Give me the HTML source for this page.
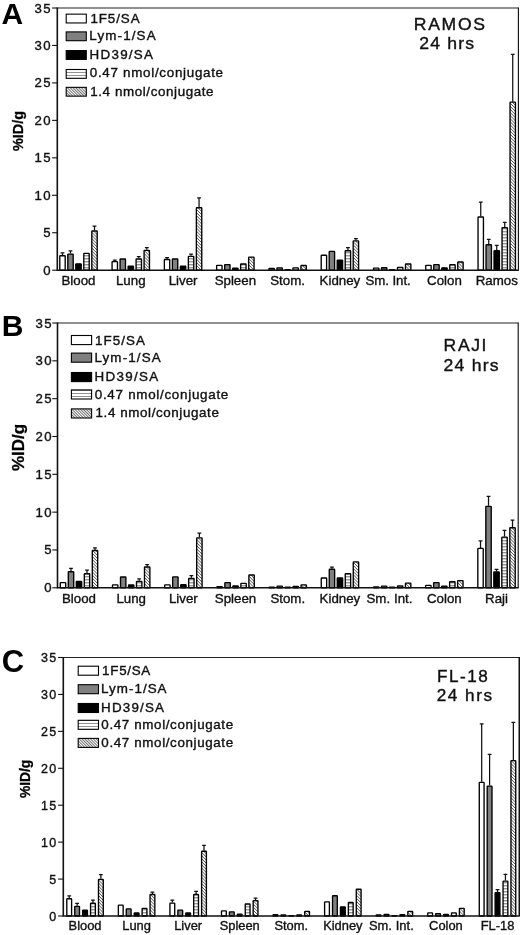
<!DOCTYPE html>
<html><head><meta charset="utf-8"><title>Figure</title>
<style>html,body{margin:0;padding:0;background:#fff}svg{display:block;filter:blur(0.35px)}text{font-family:"Liberation Sans",Arial,Helvetica,sans-serif;fill:#111;stroke:#111;stroke-width:0.36px}</style></head><body>
<svg width="520" height="935" viewBox="0 0 520 935">
<defs><pattern id="hz" width="4" height="3" patternUnits="userSpaceOnUse"><rect width="4" height="3" fill="#fff"/><rect y="0.3" width="4" height="1" fill="#6a6a6a"/></pattern><pattern id="dg" width="2.2" height="2.2" patternUnits="userSpaceOnUse" patternTransform="rotate(45)"><rect width="2.2" height="2.2" fill="#fff"/><rect y="0" width="2.2" height="0.75" fill="#555"/></pattern><pattern id="hzl" width="4" height="3" patternUnits="userSpaceOnUse"><rect width="4" height="3" fill="#fff"/><rect y="0" width="4" height="0.8" fill="#777"/></pattern><pattern id="dgl" width="2" height="2" patternUnits="userSpaceOnUse" patternTransform="rotate(45)"><rect width="2" height="2" fill="#fff"/><rect y="0" width="2" height="0.7" fill="#333"/></pattern></defs>
<rect width="520" height="935" fill="#fff"/>
<g>
<text x="1.55" y="23.60" font-size="30" letter-spacing="0.00" font-weight="bold" style="fill:#000;stroke:none">A</text>
<path d="M57.3 8.0H518.4" fill="none" stroke="#222" stroke-width="1.15"/>
<path d="M518.4 7.5V270.2" fill="none" stroke="#111" stroke-width="1.15"/>
<path d="M62.50 255.29V252.97M60.60 252.97H64.40" stroke="#111" stroke-width="1.25" fill="none"/>
<rect x="59.80" y="255.79" width="5.40" height="14.41" fill="#fff" stroke="#000" stroke-width="1.35" rx="0.5"/>
<path d="M70.50 253.57V250.95M68.60 250.95H72.40" stroke="#111" stroke-width="1.25" fill="none"/>
<rect x="67.80" y="254.07" width="5.40" height="16.13" fill="#808080" stroke="#000" stroke-width="1.35" rx="0.5"/>
<rect x="75.80" y="263.81" width="5.40" height="6.39" fill="#000" stroke="#000" stroke-width="1.35" rx="0.5"/>
<rect x="83.80" y="253.32" width="5.40" height="16.88" fill="url(#hz)" stroke="#000" stroke-width="1.35" rx="0.5"/>
<path d="M94.50 230.50V226.00M92.60 226.00H96.40" stroke="#111" stroke-width="1.25" fill="none"/>
<rect x="91.80" y="231.00" width="5.40" height="39.20" fill="url(#dg)" stroke="#000" stroke-width="1.35" rx="0.5"/>
<text x="78.50" y="285.4" font-size="13.3" text-anchor="middle">Blood</text>
<path d="M114.78 261.06V260.24M112.88 260.24H116.68" stroke="#111" stroke-width="1.25" fill="none"/>
<rect x="112.08" y="261.56" width="5.40" height="8.64" fill="#fff" stroke="#000" stroke-width="1.35" rx="0.5"/>
<rect x="120.08" y="259.01" width="5.40" height="11.19" fill="#808080" stroke="#000" stroke-width="1.35" rx="0.5"/>
<rect x="128.08" y="266.28" width="5.40" height="3.92" fill="#000" stroke="#000" stroke-width="1.35" rx="0.5"/>
<path d="M138.78 258.51V256.72M136.88 256.72H140.68" stroke="#111" stroke-width="1.25" fill="none"/>
<rect x="136.08" y="259.01" width="5.40" height="11.19" fill="url(#hz)" stroke="#000" stroke-width="1.35" rx="0.5"/>
<path d="M146.78 249.82V247.73M144.88 247.73H148.68" stroke="#111" stroke-width="1.25" fill="none"/>
<rect x="144.08" y="250.32" width="5.40" height="19.88" fill="url(#dg)" stroke="#000" stroke-width="1.35" rx="0.5"/>
<text x="130.78" y="285.4" font-size="13.3" text-anchor="middle">Lung</text>
<path d="M167.06 259.04V257.69M165.16 257.69H168.96" stroke="#111" stroke-width="1.25" fill="none"/>
<rect x="164.36" y="259.54" width="5.40" height="10.66" fill="#fff" stroke="#000" stroke-width="1.35" rx="0.5"/>
<rect x="172.36" y="259.01" width="5.40" height="11.19" fill="#808080" stroke="#000" stroke-width="1.35" rx="0.5"/>
<rect x="180.36" y="266.06" width="5.40" height="4.14" fill="#000" stroke="#000" stroke-width="1.35" rx="0.5"/>
<path d="M191.06 255.82V254.24M189.16 254.24H192.96" stroke="#111" stroke-width="1.25" fill="none"/>
<rect x="188.36" y="256.32" width="5.40" height="13.88" fill="url(#hz)" stroke="#000" stroke-width="1.35" rx="0.5"/>
<path d="M199.06 207.27V197.76M197.16 197.76H200.96" stroke="#111" stroke-width="1.25" fill="none"/>
<rect x="196.36" y="207.77" width="5.40" height="62.43" fill="url(#dg)" stroke="#000" stroke-width="1.35" rx="0.5"/>
<text x="183.06" y="285.4" font-size="13.3" text-anchor="middle">Liver</text>
<rect x="216.64" y="265.31" width="5.40" height="4.89" fill="#fff" stroke="#000" stroke-width="1.35" rx="0.5"/>
<rect x="224.64" y="264.56" width="5.40" height="5.64" fill="#808080" stroke="#000" stroke-width="1.35" rx="0.5"/>
<rect x="232.64" y="268.08" width="5.40" height="2.12" fill="#000" stroke="#000" stroke-width="1.35" rx="0.5"/>
<rect x="240.64" y="264.03" width="5.40" height="6.17" fill="url(#hz)" stroke="#000" stroke-width="1.35" rx="0.5"/>
<rect x="248.64" y="257.07" width="5.40" height="13.13" fill="url(#dg)" stroke="#000" stroke-width="1.35" rx="0.5"/>
<text x="235.34" y="285.4" font-size="13.3" text-anchor="middle">Spleen</text>
<rect x="268.92" y="268.45" width="5.40" height="1.75" fill="#fff" stroke="#000" stroke-width="1.35" rx="0.5"/>
<rect x="276.92" y="267.85" width="5.40" height="2.35" fill="#808080" stroke="#000" stroke-width="1.35" rx="0.5"/>
<rect x="284.92" y="269.58" width="5.40" height="0.62" fill="#000" stroke="#000" stroke-width="1.35" rx="0.5"/>
<rect x="292.92" y="267.85" width="5.40" height="2.35" fill="url(#hz)" stroke="#000" stroke-width="1.35" rx="0.5"/>
<rect x="300.92" y="265.53" width="5.40" height="4.67" fill="url(#dg)" stroke="#000" stroke-width="1.35" rx="0.5"/>
<text x="287.62" y="285.4" font-size="13.3" text-anchor="middle">Stom.</text>
<rect x="321.20" y="255.27" width="5.40" height="14.93" fill="#fff" stroke="#000" stroke-width="1.35" rx="0.5"/>
<rect x="329.20" y="251.30" width="5.40" height="18.90" fill="#808080" stroke="#000" stroke-width="1.35" rx="0.5"/>
<rect x="337.20" y="260.06" width="5.40" height="10.14" fill="#000" stroke="#000" stroke-width="1.35" rx="0.5"/>
<path d="M347.90 250.27V247.73M346.00 247.73H349.80" stroke="#111" stroke-width="1.25" fill="none"/>
<rect x="345.20" y="250.77" width="5.40" height="19.43" fill="url(#hz)" stroke="#000" stroke-width="1.35" rx="0.5"/>
<path d="M355.90 240.31V238.51M354.00 238.51H357.80" stroke="#111" stroke-width="1.25" fill="none"/>
<rect x="353.20" y="240.81" width="5.40" height="29.39" fill="url(#dg)" stroke="#000" stroke-width="1.35" rx="0.5"/>
<text x="339.90" y="285.4" font-size="13.3" text-anchor="middle">Kidney</text>
<rect x="373.48" y="268.08" width="5.40" height="2.12" fill="#fff" stroke="#000" stroke-width="1.35" rx="0.5"/>
<rect x="381.48" y="267.70" width="5.40" height="2.50" fill="#808080" stroke="#000" stroke-width="1.35" rx="0.5"/>
<rect x="389.48" y="269.58" width="5.40" height="0.62" fill="#000" stroke="#000" stroke-width="1.35" rx="0.5"/>
<rect x="397.48" y="267.33" width="5.40" height="2.87" fill="url(#hz)" stroke="#000" stroke-width="1.35" rx="0.5"/>
<rect x="405.48" y="264.03" width="5.40" height="6.17" fill="url(#dg)" stroke="#000" stroke-width="1.35" rx="0.5"/>
<text x="365.38" y="285.40" font-size="13.3" letter-spacing="-0.07">Sm. Int.</text>
<rect x="425.76" y="265.31" width="5.40" height="4.89" fill="#fff" stroke="#000" stroke-width="1.35" rx="0.5"/>
<rect x="433.76" y="264.56" width="5.40" height="5.64" fill="#808080" stroke="#000" stroke-width="1.35" rx="0.5"/>
<rect x="441.76" y="267.85" width="5.40" height="2.35" fill="#000" stroke="#000" stroke-width="1.35" rx="0.5"/>
<rect x="449.76" y="264.78" width="5.40" height="5.42" fill="url(#hz)" stroke="#000" stroke-width="1.35" rx="0.5"/>
<rect x="457.76" y="262.01" width="5.40" height="8.19" fill="url(#dg)" stroke="#000" stroke-width="1.35" rx="0.5"/>
<text x="444.46" y="285.4" font-size="13.3" text-anchor="middle">Colon</text>
<path d="M480.74 216.49V202.03M478.84 202.03H482.64" stroke="#111" stroke-width="1.25" fill="none"/>
<rect x="478.04" y="216.99" width="5.40" height="53.21" fill="#fff" stroke="#000" stroke-width="1.35" rx="0.5"/>
<path d="M488.74 244.20V239.26M486.84 239.26H490.64" stroke="#111" stroke-width="1.25" fill="none"/>
<rect x="486.04" y="244.70" width="5.40" height="25.50" fill="#808080" stroke="#000" stroke-width="1.35" rx="0.5"/>
<path d="M496.74 250.20V245.48M494.84 245.48H498.64" stroke="#111" stroke-width="1.25" fill="none"/>
<rect x="494.04" y="250.70" width="5.40" height="19.50" fill="#000" stroke="#000" stroke-width="1.35" rx="0.5"/>
<path d="M504.74 227.12V222.25M502.84 222.25H506.64" stroke="#111" stroke-width="1.25" fill="none"/>
<rect x="502.04" y="227.62" width="5.40" height="42.58" fill="url(#hz)" stroke="#000" stroke-width="1.35" rx="0.5"/>
<path d="M512.74 101.64V54.45M510.84 54.45H514.64" stroke="#111" stroke-width="1.25" fill="none"/>
<rect x="510.04" y="102.14" width="5.40" height="168.06" fill="url(#dg)" stroke="#000" stroke-width="1.35" rx="0.5"/>
<text x="496.74" y="285.4" font-size="13.3" text-anchor="middle">Ramos</text>
<path d="M57.3 7.5V270.2H518.9" fill="none" stroke="#111" stroke-width="1.6"/>
<path d="M52.099999999999994 270.20H57.3" stroke="#111" stroke-width="1.1"/>
<text x="51.90" y="274.70" font-size="13.2" letter-spacing="1.3" text-anchor="end">0</text>
<path d="M52.099999999999994 232.74H57.3" stroke="#111" stroke-width="1.1"/>
<text x="51.90" y="237.24" font-size="13.2" letter-spacing="1.3" text-anchor="end">5</text>
<path d="M52.099999999999994 195.29H57.3" stroke="#111" stroke-width="1.1"/>
<text x="51.90" y="199.79" font-size="13.2" letter-spacing="1.3" text-anchor="end">10</text>
<path d="M52.099999999999994 157.83H57.3" stroke="#111" stroke-width="1.1"/>
<text x="51.90" y="162.33" font-size="13.2" letter-spacing="1.3" text-anchor="end">15</text>
<path d="M52.099999999999994 120.37H57.3" stroke="#111" stroke-width="1.1"/>
<text x="51.90" y="124.87" font-size="13.2" letter-spacing="1.3" text-anchor="end">20</text>
<path d="M52.099999999999994 82.91H57.3" stroke="#111" stroke-width="1.1"/>
<text x="51.90" y="87.41" font-size="13.2" letter-spacing="1.3" text-anchor="end">25</text>
<path d="M52.099999999999994 45.46H57.3" stroke="#111" stroke-width="1.1"/>
<text x="51.90" y="49.96" font-size="13.2" letter-spacing="1.3" text-anchor="end">30</text>
<path d="M52.099999999999994 8.00H57.3" stroke="#111" stroke-width="1.1"/>
<text x="51.90" y="12.50" font-size="13.2" letter-spacing="1.3" text-anchor="end">35</text>
<text transform="translate(22.8 151.0) rotate(-90)" font-size="14.4" font-weight="bold" style="fill:#000;stroke:#000;stroke-width:0.3px">%ID/g</text>
<text transform="translate(413.73 30.00) scale(1.1 1)" font-size="16" letter-spacing="1.57">RAMOS</text>
<text transform="translate(419.18 49.00) scale(1.1 1)" font-size="16" letter-spacing="1.10">24 hrs</text>
<rect x="66.2" y="14.15" width="20.1" height="8.8" fill="#fff" stroke="#000" stroke-width="1.1"/>
<text transform="translate(90.42 22.50) scale(1.08 1)" font-size="12.4" letter-spacing="0.84">1F5/SA</text>
<rect x="66.2" y="31.90" width="20.1" height="8.8" fill="#808080" stroke="#000" stroke-width="1.1"/>
<text transform="translate(89.32 40.40) scale(1.08 1)" font-size="12.4" letter-spacing="1.06">Lym-1/SA</text>
<rect x="66.2" y="50.60" width="20.1" height="8.8" fill="#000" stroke="#000" stroke-width="1.1"/>
<text transform="translate(89.52 58.80) scale(1.08 1)" font-size="12.4" letter-spacing="1.19">HD39/SA</text>
<rect x="66.2" y="69.50" width="20.1" height="8.8" fill="url(#hzl)" stroke="#000" stroke-width="1.1"/>
<text transform="translate(89.76 77.30) scale(1.08 1)" font-size="12.4" letter-spacing="0.66">0.47 nmol/conjugate</text>
<rect x="66.2" y="87.35" width="20.1" height="8.8" fill="url(#dgl)" stroke="#000" stroke-width="1.1"/>
<text transform="translate(90.22 96.00) scale(1.08 1)" font-size="12.4" letter-spacing="0.56">1.4 nmol/conjugate</text>
</g>
<g>
<text x="1.70" y="336.20" font-size="30" letter-spacing="0.00" font-weight="bold" style="fill:#000;stroke:none">B</text>
<path d="M57.5 323.0H518.2" fill="none" stroke="#222" stroke-width="1.15"/>
<path d="M518.2 322.5V587.8" fill="none" stroke="#111" stroke-width="1.15"/>
<rect x="60.30" y="582.55" width="5.40" height="5.25" fill="#fff" stroke="#000" stroke-width="1.35" rx="0.5"/>
<path d="M71.00 571.23V568.36M69.10 568.36H72.90" stroke="#111" stroke-width="1.25" fill="none"/>
<rect x="68.30" y="571.73" width="5.40" height="16.07" fill="#808080" stroke="#000" stroke-width="1.35" rx="0.5"/>
<rect x="76.30" y="581.34" width="5.40" height="6.46" fill="#000" stroke="#000" stroke-width="1.35" rx="0.5"/>
<path d="M87.00 573.27V570.17M85.10 570.17H88.90" stroke="#111" stroke-width="1.25" fill="none"/>
<rect x="84.30" y="573.77" width="5.40" height="14.03" fill="url(#hz)" stroke="#000" stroke-width="1.35" rx="0.5"/>
<path d="M95.00 549.97V547.93M93.10 547.93H96.90" stroke="#111" stroke-width="1.25" fill="none"/>
<rect x="92.30" y="550.47" width="5.40" height="37.33" fill="url(#dg)" stroke="#000" stroke-width="1.35" rx="0.5"/>
<text x="79.00" y="603.3" font-size="13.3" text-anchor="middle">Blood</text>
<rect x="112.49" y="584.90" width="5.40" height="2.90" fill="#fff" stroke="#000" stroke-width="1.35" rx="0.5"/>
<rect x="120.49" y="577.03" width="5.40" height="10.77" fill="#808080" stroke="#000" stroke-width="1.35" rx="0.5"/>
<rect x="128.49" y="584.90" width="5.40" height="2.90" fill="#000" stroke="#000" stroke-width="1.35" rx="0.5"/>
<path d="M139.19 580.84V578.95M137.29 578.95H141.09" stroke="#111" stroke-width="1.25" fill="none"/>
<rect x="136.49" y="581.34" width="5.40" height="6.46" fill="url(#hz)" stroke="#000" stroke-width="1.35" rx="0.5"/>
<path d="M147.19 566.46V564.57M145.29 564.57H149.09" stroke="#111" stroke-width="1.25" fill="none"/>
<rect x="144.49" y="566.96" width="5.40" height="20.84" fill="url(#dg)" stroke="#000" stroke-width="1.35" rx="0.5"/>
<text x="131.19" y="603.3" font-size="13.3" text-anchor="middle">Lung</text>
<rect x="164.68" y="584.90" width="5.40" height="2.90" fill="#fff" stroke="#000" stroke-width="1.35" rx="0.5"/>
<rect x="172.68" y="576.80" width="5.40" height="11.00" fill="#808080" stroke="#000" stroke-width="1.35" rx="0.5"/>
<rect x="180.68" y="584.67" width="5.40" height="3.13" fill="#000" stroke="#000" stroke-width="1.35" rx="0.5"/>
<path d="M191.38 577.81V575.69M189.48 575.69H193.28" stroke="#111" stroke-width="1.25" fill="none"/>
<rect x="188.68" y="578.31" width="5.40" height="9.49" fill="url(#hz)" stroke="#000" stroke-width="1.35" rx="0.5"/>
<path d="M199.38 537.34V533.10M197.48 533.10H201.28" stroke="#111" stroke-width="1.25" fill="none"/>
<rect x="196.68" y="537.84" width="5.40" height="49.96" fill="url(#dg)" stroke="#000" stroke-width="1.35" rx="0.5"/>
<text x="183.38" y="603.3" font-size="13.3" text-anchor="middle">Liver</text>
<rect x="216.87" y="586.64" width="5.40" height="1.16" fill="#fff" stroke="#000" stroke-width="1.35" rx="0.5"/>
<rect x="224.87" y="582.55" width="5.40" height="5.25" fill="#808080" stroke="#000" stroke-width="1.35" rx="0.5"/>
<rect x="232.87" y="585.88" width="5.40" height="1.92" fill="#000" stroke="#000" stroke-width="1.35" rx="0.5"/>
<rect x="240.87" y="583.31" width="5.40" height="4.49" fill="url(#hz)" stroke="#000" stroke-width="1.35" rx="0.5"/>
<rect x="248.87" y="574.98" width="5.40" height="12.82" fill="url(#dg)" stroke="#000" stroke-width="1.35" rx="0.5"/>
<text x="235.57" y="603.3" font-size="13.3" text-anchor="middle">Spleen</text>
<rect x="269.06" y="587.17" width="5.40" height="0.63" fill="#fff" stroke="#000" stroke-width="1.35" rx="0.5"/>
<rect x="277.06" y="586.18" width="5.40" height="1.62" fill="#808080" stroke="#000" stroke-width="1.35" rx="0.5"/>
<rect x="285.06" y="587.17" width="5.40" height="0.63" fill="#000" stroke="#000" stroke-width="1.35" rx="0.5"/>
<rect x="293.06" y="586.41" width="5.40" height="1.39" fill="url(#hz)" stroke="#000" stroke-width="1.35" rx="0.5"/>
<rect x="301.06" y="584.90" width="5.40" height="2.90" fill="url(#dg)" stroke="#000" stroke-width="1.35" rx="0.5"/>
<text x="287.76" y="603.3" font-size="13.3" text-anchor="middle">Stom.</text>
<rect x="321.25" y="578.01" width="5.40" height="9.79" fill="#fff" stroke="#000" stroke-width="1.35" rx="0.5"/>
<path d="M331.95 568.73V567.15M330.05 567.15H333.85" stroke="#111" stroke-width="1.25" fill="none"/>
<rect x="329.25" y="569.23" width="5.40" height="18.57" fill="#808080" stroke="#000" stroke-width="1.35" rx="0.5"/>
<rect x="337.25" y="578.01" width="5.40" height="9.79" fill="#000" stroke="#000" stroke-width="1.35" rx="0.5"/>
<rect x="345.25" y="573.77" width="5.40" height="14.03" fill="url(#hz)" stroke="#000" stroke-width="1.35" rx="0.5"/>
<rect x="353.25" y="561.90" width="5.40" height="25.90" fill="url(#dg)" stroke="#000" stroke-width="1.35" rx="0.5"/>
<text x="339.95" y="603.3" font-size="13.3" text-anchor="middle">Kidney</text>
<rect x="373.44" y="586.94" width="5.40" height="0.86" fill="#fff" stroke="#000" stroke-width="1.35" rx="0.5"/>
<rect x="381.44" y="586.18" width="5.40" height="1.62" fill="#808080" stroke="#000" stroke-width="1.35" rx="0.5"/>
<rect x="389.44" y="587.17" width="5.40" height="0.63" fill="#000" stroke="#000" stroke-width="1.35" rx="0.5"/>
<rect x="397.44" y="586.03" width="5.40" height="1.77" fill="url(#hz)" stroke="#000" stroke-width="1.35" rx="0.5"/>
<rect x="405.44" y="583.08" width="5.40" height="4.72" fill="url(#dg)" stroke="#000" stroke-width="1.35" rx="0.5"/>
<text x="366.38" y="603.30" font-size="13.3" letter-spacing="0.05">Sm. Int.</text>
<rect x="425.63" y="585.43" width="5.40" height="2.37" fill="#fff" stroke="#000" stroke-width="1.35" rx="0.5"/>
<rect x="433.63" y="582.55" width="5.40" height="5.25" fill="#808080" stroke="#000" stroke-width="1.35" rx="0.5"/>
<rect x="441.63" y="586.18" width="5.40" height="1.62" fill="#000" stroke="#000" stroke-width="1.35" rx="0.5"/>
<rect x="449.63" y="581.79" width="5.40" height="6.01" fill="url(#hz)" stroke="#000" stroke-width="1.35" rx="0.5"/>
<rect x="457.63" y="580.58" width="5.40" height="7.22" fill="url(#dg)" stroke="#000" stroke-width="1.35" rx="0.5"/>
<text x="444.33" y="603.3" font-size="13.3" text-anchor="middle">Colon</text>
<path d="M480.52 547.93V540.89M478.62 540.89H482.42" stroke="#111" stroke-width="1.25" fill="none"/>
<rect x="477.82" y="548.43" width="5.40" height="39.37" fill="#fff" stroke="#000" stroke-width="1.35" rx="0.5"/>
<path d="M488.52 505.86V496.48M486.62 496.48H490.42" stroke="#111" stroke-width="1.25" fill="none"/>
<rect x="485.82" y="506.36" width="5.40" height="81.44" fill="#808080" stroke="#000" stroke-width="1.35" rx="0.5"/>
<path d="M496.52 571.38V569.42M494.62 569.42H498.42" stroke="#111" stroke-width="1.25" fill="none"/>
<rect x="493.82" y="571.88" width="5.40" height="15.92" fill="#000" stroke="#000" stroke-width="1.35" rx="0.5"/>
<path d="M504.52 536.58V530.30M502.62 530.30H506.42" stroke="#111" stroke-width="1.25" fill="none"/>
<rect x="501.82" y="537.08" width="5.40" height="50.72" fill="url(#hz)" stroke="#000" stroke-width="1.35" rx="0.5"/>
<path d="M512.52 527.27V520.24M510.62 520.24H514.42" stroke="#111" stroke-width="1.25" fill="none"/>
<rect x="509.82" y="527.77" width="5.40" height="60.03" fill="url(#dg)" stroke="#000" stroke-width="1.35" rx="0.5"/>
<text x="496.52" y="603.3" font-size="13.3" text-anchor="middle">Raji</text>
<path d="M57.5 322.5V587.8H518.7" fill="none" stroke="#111" stroke-width="1.6"/>
<path d="M52.3 587.80H57.5" stroke="#111" stroke-width="1.1"/>
<text x="52.90" y="592.30" font-size="13.2" letter-spacing="1.3" text-anchor="end">0</text>
<path d="M52.3 549.97H57.5" stroke="#111" stroke-width="1.1"/>
<text x="52.90" y="554.47" font-size="13.2" letter-spacing="1.3" text-anchor="end">5</text>
<path d="M52.3 512.14H57.5" stroke="#111" stroke-width="1.1"/>
<text x="52.90" y="516.64" font-size="13.2" letter-spacing="1.3" text-anchor="end">10</text>
<path d="M52.3 474.31H57.5" stroke="#111" stroke-width="1.1"/>
<text x="52.90" y="478.81" font-size="13.2" letter-spacing="1.3" text-anchor="end">15</text>
<path d="M52.3 436.49H57.5" stroke="#111" stroke-width="1.1"/>
<text x="52.90" y="440.99" font-size="13.2" letter-spacing="1.3" text-anchor="end">20</text>
<path d="M52.3 398.66H57.5" stroke="#111" stroke-width="1.1"/>
<text x="52.90" y="403.16" font-size="13.2" letter-spacing="1.3" text-anchor="end">25</text>
<path d="M52.3 360.83H57.5" stroke="#111" stroke-width="1.1"/>
<text x="52.90" y="365.33" font-size="13.2" letter-spacing="1.3" text-anchor="end">30</text>
<path d="M52.3 323.00H57.5" stroke="#111" stroke-width="1.1"/>
<text x="52.90" y="327.50" font-size="13.2" letter-spacing="1.3" text-anchor="end">35</text>
<text transform="translate(23.5 471.0) rotate(-90)" font-size="17.0" font-weight="bold" style="fill:#000;stroke:#000;stroke-width:0.3px">%ID/g</text>
<text transform="translate(443.62 350.90) scale(1.1 1)" font-size="16" letter-spacing="1.45">RAJI</text>
<text transform="translate(443.48 370.60) scale(1.1 1)" font-size="16" letter-spacing="1.14">24 hrs</text>
<rect x="71.4" y="335.50" width="20.2" height="9.1" fill="#fff" stroke="#000" stroke-width="1.1"/>
<text transform="translate(95.12 344.80) scale(1.08 1)" font-size="12.4" letter-spacing="0.95">1F5/SA</text>
<rect x="71.4" y="353.10" width="20.2" height="9.1" fill="#808080" stroke="#000" stroke-width="1.1"/>
<text transform="translate(94.42 362.40) scale(1.08 1)" font-size="12.4" letter-spacing="1.06">Lym-1/SA</text>
<rect x="71.4" y="372.50" width="20.2" height="9.1" fill="#000" stroke="#000" stroke-width="1.1"/>
<text transform="translate(94.42 380.80) scale(1.08 1)" font-size="12.4" letter-spacing="1.24">HD39/SA</text>
<rect x="71.4" y="389.90" width="20.2" height="9.1" fill="url(#hzl)" stroke="#000" stroke-width="1.1"/>
<text transform="translate(94.76 398.80) scale(1.08 1)" font-size="12.4" letter-spacing="0.67">0.47 nmol/conjugate</text>
<rect x="71.4" y="408.90" width="20.2" height="9.1" fill="url(#dgl)" stroke="#000" stroke-width="1.1"/>
<text transform="translate(95.52 417.20) scale(1.08 1)" font-size="12.4" letter-spacing="0.56">1.4 nmol/conjugate</text>
</g>
<g>
<text x="1.65" y="671.90" font-size="31" letter-spacing="0.00" font-weight="bold" style="fill:#000;stroke:none">C</text>
<path d="M63.3 657.5H519.3" fill="none" stroke="#222" stroke-width="1.15"/>
<path d="M519.3 657.0V916.0" fill="none" stroke="#111" stroke-width="1.6"/>
<path d="M69.20 898.27V895.91M67.30 895.91H71.10" stroke="#111" stroke-width="1.25" fill="none"/>
<rect x="66.80" y="898.77" width="4.80" height="17.23" fill="#fff" stroke="#000" stroke-width="1.35" rx="0.5"/>
<path d="M77.12 905.81V903.44M75.22 903.44H79.02" stroke="#111" stroke-width="1.25" fill="none"/>
<rect x="74.72" y="906.31" width="4.80" height="9.69" fill="#808080" stroke="#000" stroke-width="1.35" rx="0.5"/>
<rect x="82.64" y="910.07" width="4.80" height="5.93" fill="#000" stroke="#000" stroke-width="1.35" rx="0.5"/>
<path d="M92.96 902.78V900.19M91.06 900.19H94.86" stroke="#111" stroke-width="1.25" fill="none"/>
<rect x="90.56" y="903.28" width="4.80" height="12.72" fill="url(#hz)" stroke="#000" stroke-width="1.35" rx="0.5"/>
<path d="M100.88 878.85V874.64M98.98 874.64H102.78" stroke="#111" stroke-width="1.25" fill="none"/>
<rect x="98.48" y="879.35" width="4.80" height="36.65" fill="url(#dg)" stroke="#000" stroke-width="1.35" rx="0.5"/>
<text x="85.04" y="929.8" font-size="12.9" text-anchor="middle">Blood</text>
<rect x="118.36" y="905.05" width="4.80" height="10.95" fill="#fff" stroke="#000" stroke-width="1.35" rx="0.5"/>
<rect x="126.28" y="908.82" width="4.80" height="7.18" fill="#808080" stroke="#000" stroke-width="1.35" rx="0.5"/>
<rect x="134.20" y="912.88" width="4.80" height="3.12" fill="#000" stroke="#000" stroke-width="1.35" rx="0.5"/>
<rect x="142.12" y="908.30" width="4.80" height="7.70" fill="url(#hz)" stroke="#000" stroke-width="1.35" rx="0.5"/>
<path d="M152.44 893.99V892.14M150.54 892.14H154.34" stroke="#111" stroke-width="1.25" fill="none"/>
<rect x="150.04" y="894.49" width="4.80" height="21.51" fill="url(#dg)" stroke="#000" stroke-width="1.35" rx="0.5"/>
<text x="136.60" y="929.8" font-size="12.9" text-anchor="middle">Lung</text>
<path d="M172.32 902.56V900.19M170.42 900.19H174.22" stroke="#111" stroke-width="1.25" fill="none"/>
<rect x="169.92" y="903.06" width="4.80" height="12.94" fill="#fff" stroke="#000" stroke-width="1.35" rx="0.5"/>
<rect x="177.84" y="910.07" width="4.80" height="5.93" fill="#808080" stroke="#000" stroke-width="1.35" rx="0.5"/>
<rect x="185.76" y="912.88" width="4.80" height="3.12" fill="#000" stroke="#000" stroke-width="1.35" rx="0.5"/>
<path d="M196.08 893.99V891.41M194.18 891.41H197.98" stroke="#111" stroke-width="1.25" fill="none"/>
<rect x="193.68" y="894.49" width="4.80" height="21.51" fill="url(#hz)" stroke="#000" stroke-width="1.35" rx="0.5"/>
<path d="M204.00 850.71V845.47M202.10 845.47H205.90" stroke="#111" stroke-width="1.25" fill="none"/>
<rect x="201.60" y="851.21" width="4.80" height="64.79" fill="url(#dg)" stroke="#000" stroke-width="1.35" rx="0.5"/>
<text x="188.16" y="929.8" font-size="12.9" text-anchor="middle">Liver</text>
<rect x="221.48" y="910.81" width="4.80" height="5.19" fill="#fff" stroke="#000" stroke-width="1.35" rx="0.5"/>
<rect x="229.40" y="911.85" width="4.80" height="4.15" fill="#808080" stroke="#000" stroke-width="1.35" rx="0.5"/>
<rect x="237.32" y="914.14" width="4.80" height="1.86" fill="#000" stroke="#000" stroke-width="1.35" rx="0.5"/>
<rect x="245.24" y="904.02" width="4.80" height="11.98" fill="url(#hz)" stroke="#000" stroke-width="1.35" rx="0.5"/>
<path d="M255.56 900.05V898.20M253.66 898.20H257.46" stroke="#111" stroke-width="1.25" fill="none"/>
<rect x="253.16" y="900.55" width="4.80" height="15.45" fill="url(#dg)" stroke="#000" stroke-width="1.35" rx="0.5"/>
<text x="239.72" y="929.8" font-size="12.9" text-anchor="middle">Spleen</text>
<rect x="273.04" y="914.65" width="4.80" height="1.35" fill="#fff" stroke="#000" stroke-width="1.35" rx="0.5"/>
<rect x="280.96" y="915.02" width="4.80" height="0.98" fill="#808080" stroke="#000" stroke-width="1.35" rx="0.5"/>
<rect x="288.88" y="915.76" width="4.80" height="0.30" fill="#000" stroke="#000" stroke-width="1.35" rx="0.5"/>
<rect x="296.80" y="914.88" width="4.80" height="1.12" fill="url(#hz)" stroke="#000" stroke-width="1.35" rx="0.5"/>
<rect x="304.72" y="911.33" width="4.80" height="4.67" fill="url(#dg)" stroke="#000" stroke-width="1.35" rx="0.5"/>
<text x="291.28" y="929.8" font-size="12.9" text-anchor="middle">Stom.</text>
<rect x="324.60" y="901.80" width="4.80" height="14.20" fill="#fff" stroke="#000" stroke-width="1.35" rx="0.5"/>
<rect x="332.52" y="895.75" width="4.80" height="20.25" fill="#808080" stroke="#000" stroke-width="1.35" rx="0.5"/>
<rect x="340.44" y="906.82" width="4.80" height="9.18" fill="#000" stroke="#000" stroke-width="1.35" rx="0.5"/>
<rect x="348.36" y="902.54" width="4.80" height="13.46" fill="url(#hz)" stroke="#000" stroke-width="1.35" rx="0.5"/>
<rect x="356.28" y="889.25" width="4.80" height="26.75" fill="url(#dg)" stroke="#000" stroke-width="1.35" rx="0.5"/>
<text x="342.84" y="929.8" font-size="12.9" text-anchor="middle">Kidney</text>
<rect x="376.16" y="914.88" width="4.80" height="1.12" fill="#fff" stroke="#000" stroke-width="1.35" rx="0.5"/>
<rect x="384.08" y="914.36" width="4.80" height="1.64" fill="#808080" stroke="#000" stroke-width="1.35" rx="0.5"/>
<rect x="392.00" y="915.61" width="4.80" height="0.39" fill="#000" stroke="#000" stroke-width="1.35" rx="0.5"/>
<rect x="399.92" y="914.65" width="4.80" height="1.35" fill="url(#hz)" stroke="#000" stroke-width="1.35" rx="0.5"/>
<rect x="407.84" y="911.33" width="4.80" height="4.67" fill="url(#dg)" stroke="#000" stroke-width="1.35" rx="0.5"/>
<text x="368.88" y="929.80" font-size="12.9" letter-spacing="0.07">Sm. Int.</text>
<rect x="427.72" y="912.88" width="4.80" height="3.12" fill="#fff" stroke="#000" stroke-width="1.35" rx="0.5"/>
<rect x="435.64" y="913.62" width="4.80" height="2.38" fill="#808080" stroke="#000" stroke-width="1.35" rx="0.5"/>
<rect x="443.56" y="914.36" width="4.80" height="1.64" fill="#000" stroke="#000" stroke-width="1.35" rx="0.5"/>
<rect x="451.48" y="912.88" width="4.80" height="3.12" fill="url(#hz)" stroke="#000" stroke-width="1.35" rx="0.5"/>
<rect x="459.40" y="908.30" width="4.80" height="7.70" fill="url(#dg)" stroke="#000" stroke-width="1.35" rx="0.5"/>
<text x="445.96" y="929.8" font-size="12.9" text-anchor="middle">Colon</text>
<path d="M481.68 781.80V723.97M479.78 723.97H483.58" stroke="#111" stroke-width="1.25" fill="none"/>
<rect x="479.28" y="782.30" width="4.80" height="133.70" fill="#fff" stroke="#000" stroke-width="1.35" rx="0.5"/>
<path d="M489.60 785.57V754.25M487.70 754.25H491.50" stroke="#111" stroke-width="1.25" fill="none"/>
<rect x="487.20" y="786.07" width="4.80" height="129.93" fill="#808080" stroke="#000" stroke-width="1.35" rx="0.5"/>
<path d="M497.52 892.14V889.63M495.62 889.63H499.42" stroke="#111" stroke-width="1.25" fill="none"/>
<rect x="495.12" y="892.64" width="4.80" height="23.36" fill="#000" stroke="#000" stroke-width="1.35" rx="0.5"/>
<path d="M505.44 880.62V874.34M503.54 874.34H507.34" stroke="#111" stroke-width="1.25" fill="none"/>
<rect x="503.04" y="881.12" width="4.80" height="34.88" fill="url(#hz)" stroke="#000" stroke-width="1.35" rx="0.5"/>
<path d="M513.36 760.16V722.49M511.46 722.49H515.26" stroke="#111" stroke-width="1.25" fill="none"/>
<rect x="510.96" y="760.66" width="4.80" height="155.34" fill="url(#dg)" stroke="#000" stroke-width="1.35" rx="0.5"/>
<text x="497.52" y="929.8" font-size="12.9" text-anchor="middle">FL-18</text>
<path d="M63.3 657.0V916.0H519.8" fill="none" stroke="#111" stroke-width="1.6"/>
<path d="M58.099999999999994 916.00H63.3" stroke="#111" stroke-width="1.1"/>
<text x="57.40" y="920.50" font-size="12.5" letter-spacing="1.3" text-anchor="end">0</text>
<path d="M58.099999999999994 879.07H63.3" stroke="#111" stroke-width="1.1"/>
<text x="57.40" y="883.57" font-size="12.5" letter-spacing="1.3" text-anchor="end">5</text>
<path d="M58.099999999999994 842.14H63.3" stroke="#111" stroke-width="1.1"/>
<text x="57.40" y="846.64" font-size="12.5" letter-spacing="1.3" text-anchor="end">10</text>
<path d="M58.099999999999994 805.21H63.3" stroke="#111" stroke-width="1.1"/>
<text x="57.40" y="809.71" font-size="12.5" letter-spacing="1.3" text-anchor="end">15</text>
<path d="M58.099999999999994 768.29H63.3" stroke="#111" stroke-width="1.1"/>
<text x="57.40" y="772.79" font-size="12.5" letter-spacing="1.3" text-anchor="end">20</text>
<path d="M58.099999999999994 731.36H63.3" stroke="#111" stroke-width="1.1"/>
<text x="57.40" y="735.86" font-size="12.5" letter-spacing="1.3" text-anchor="end">25</text>
<path d="M58.099999999999994 694.43H63.3" stroke="#111" stroke-width="1.1"/>
<text x="57.40" y="698.93" font-size="12.5" letter-spacing="1.3" text-anchor="end">30</text>
<path d="M58.099999999999994 657.50H63.3" stroke="#111" stroke-width="1.1"/>
<text x="57.40" y="662.00" font-size="12.5" letter-spacing="1.3" text-anchor="end">35</text>
<text transform="translate(30.2 798.1) rotate(-90)" font-size="13.8" font-weight="bold" style="fill:#000;stroke:#000;stroke-width:0.3px">%ID/g</text>
<text transform="translate(436.93 681.80) scale(1.1 1)" font-size="15.6" letter-spacing="1.37">FL-18</text>
<text transform="translate(436.68 701.20) scale(1.1 1)" font-size="15.6" letter-spacing="1.39">24 hrs</text>
<rect x="78.2" y="666.20" width="20.3" height="9.0" fill="#fff" stroke="#000" stroke-width="1.1"/>
<text transform="translate(102.12 674.90) scale(1.08 1)" font-size="12.4" letter-spacing="0.65">1F5/SA</text>
<rect x="78.2" y="684.70" width="20.3" height="9.0" fill="#808080" stroke="#000" stroke-width="1.1"/>
<text transform="translate(101.12 693.40) scale(1.08 1)" font-size="12.4" letter-spacing="0.95">Lym-1/SA</text>
<rect x="78.2" y="703.50" width="20.3" height="9.0" fill="#000" stroke="#000" stroke-width="1.1"/>
<text transform="translate(101.12 711.50) scale(1.08 1)" font-size="12.4" letter-spacing="1.10">HD39/SA</text>
<rect x="78.2" y="720.30" width="20.3" height="9.0" fill="url(#hzl)" stroke="#000" stroke-width="1.1"/>
<text transform="translate(101.36 729.30) scale(1.08 1)" font-size="12.4" letter-spacing="0.58">0.47 nmol/conjugate</text>
<rect x="78.2" y="738.40" width="20.3" height="9.0" fill="url(#dgl)" stroke="#000" stroke-width="1.1"/>
<text transform="translate(101.36 747.20) scale(1.08 1)" font-size="12.4" letter-spacing="0.58">0.47 nmol/conjugate</text>
</g>
</svg></body></html>
